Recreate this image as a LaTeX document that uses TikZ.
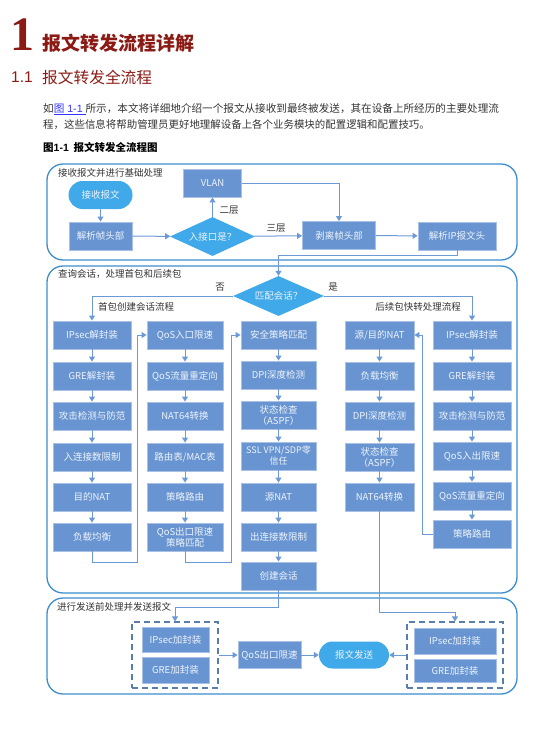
\documentclass[tikz,border=0pt]{standalone}
\usepackage{fontspec}
\setmainfont{Liberation Serif}
\newfontfamily\cjk{Noto Sans CJK SC}
\newfontfamily\lsans{Liberation Sans}
\usetikzlibrary{arrows.meta,shapes.geometric,calc}
\definecolor{headred}{HTML}{8B1A14}
\definecolor{secline}{HTML}{3C8DD0}
\definecolor{boxfill}{HTML}{6895D2}
\definecolor{boxline}{HTML}{A8C1E4}
\definecolor{pillc}{HTML}{40A9E9}
\definecolor{conn}{HTML}{6C9AD6}
\definecolor{dashc}{HTML}{5A7EAA}
\definecolor{textgrey}{HTML}{333333}
\definecolor{boxtext}{HTML}{EEF3FA}
\definecolor{linkblue}{HTML}{3333FF}
\begin{document}
\begin{tikzpicture}[x=1pt,y=-1pt,
  nf/.style={font=\cjk\fontsize{9.5}{11}\selectfont},
  box/.style={nf, draw=boxline, fill=boxfill, line width=0.9pt, text=boxtext, minimum height=28pt, inner sep=1pt, align=center},
  pill/.style={nf, fill=pillc, draw=none, rounded corners=14pt, text=boxtext, minimum height=28pt, inner sep=1pt},
  dia/.style={nf, shape=diamond, fill=pillc, draw=none, text=boxtext, inner sep=0pt},
  arr/.style={draw=conn, line width=1pt, -{Triangle[width=6pt,length=5pt]}},
  sec/.style={draw=secline, line width=1.3pt, rounded corners=16pt},
  lab/.style={nf, text=textgrey, inner sep=0pt},
  dbox/.style={draw=dashc, dash pattern=on 6pt off 4pt, line width=1.2pt, inner sep=0pt}
]
\useasboundingbox (0,0) rectangle (553,731);

% ---------- header ----------
\node[anchor=base west, inner sep=0pt, text=headred, font=\fontsize{48}{48}\selectfont\bfseries] (hnum) at (10,50) {1};
\node[anchor=base west, inner sep=0pt, text=headred, font=\cjk\bfseries\fontsize{19}{19}\selectfont] (htitle) at (42,50) {报文转发流程详解};
\node[anchor=base west, inner sep=0pt, text=headred, font=\lsans\fontsize{15.5}{16}\selectfont] (snum) at (11,82) {1.1};
\node[anchor=base west, inner sep=0pt, text=headred, font=\cjk\fontsize{15.7}{16}\selectfont] (stitle) at (42,83) {报文转发全流程};
\node[anchor=base west, inner sep=0pt, text=textgrey, font=\cjk\fontsize{10.6}{12}\selectfont] (para1) at (43,112)
  {如{\color{linkblue}\underline{图{\lsans\ 1-1 }}}所示，本文将详细地介绍一个报文从接收到最终被发送，其在设备上所经历的主要处理流};
\node[anchor=base west, inner sep=0pt, text=textgrey, font=\cjk\fontsize{10.45}{12}\selectfont] (para2) at (43,128.5)
  {程，这些信息将帮助管理员更好地理解设备上各个业务模块的配置逻辑和配置技巧。};
\node[anchor=base west, inner sep=0pt, text=black, font=\cjk\bfseries\fontsize{10.5}{12}\selectfont] (cap) at (43,151)
  {图{\lsans\bfseries 1-1}\ \ 报文转发全流程图};

% ---------- section frames ----------
\draw[sec] (47,164) rectangle (517,260);
\draw[sec] (47,266) rectangle (517,593);
\draw[sec] (47,598) rectangle (517,694);
\node[lab, anchor=west] (sl1) at (58,173) {接收报文并进行基础处理};
\node[lab, anchor=west] (sl2) at (58,274) {查询会话，处理首包和后续包};
\node[lab, anchor=west] (sl3) at (57,607) {进行发送前处理并发送报文};

% ---------- section 1 ----------
\node[pill, minimum width=64pt] (recv) at (100.5,195) {接收报文};
\node[box, minimum width=63pt] (parse) at (100.5,236) {解析帧头部};
\node[dia, minimum width=85pt, minimum height=39pt, aspect=2.2] (iface) at (212.5,236.5) {入接口是？};
\node[box, minimum width=58pt] (vlan) at (212.5,183) {VLAN};
\node[box, minimum width=73pt] (strip) at (339,235.5) {剥离帧头部};
\node[box, minimum width=78pt] (parseip) at (457,236) {解析IP报文头};
\node[lab] (l2) at (229,210) {二层};
\node[lab] (l3) at (276,228) {三层};

% ---------- section 2 ----------
\node[dia, minimum width=91pt, minimum height=40pt, aspect=2.3] (match) at (278.5,296) {匹配会话？};
\node[lab] (lno) at (220,287) {否};
\node[lab] (lyes) at (333,287) {是};
\node[lab, anchor=west] (lfirst) at (98,307) {首包创建会话流程};
\node[lab, anchor=east] (lnext) at (461,307) {后续包快转处理流程};

% column A
\node[box, minimum width=78pt] (A1) at (92,335) {IPsec解封装};
\node[box, minimum width=78pt] (A2) at (92,376) {GRE解封装};
\node[box, minimum width=78pt] (A3) at (92,416) {攻击检测与防范};
\node[box, minimum width=78pt] (A4) at (92,457) {入连接数限制};
\node[box, minimum width=78pt] (A5) at (92,497) {目的NAT};
\node[box, minimum width=78pt] (A6) at (92,537) {负载均衡};
% column B
\node[box, minimum width=76pt] (B1) at (185,335) {QoS入口限速};
\node[box, minimum width=76pt] (B2) at (185,376) {QoS流量重定向};
\node[box, minimum width=76pt] (B3) at (185,416) {NAT64转换};
\node[box, minimum width=76pt] (B4) at (185,457) {路由表/MAC表};
\node[box, minimum width=76pt] (B5) at (185,497) {策略路由};
\node[box, minimum width=76pt] (B6) at (185,537) {QoS出口限速\\策略匹配};
% column C
\node[box, minimum width=75pt] (C1) at (278.5,335) {安全策略匹配};
\node[box, minimum width=75pt] (C2) at (278.5,375) {DPI深度检测};
\node[box, minimum width=75pt] (C3) at (278.5,415) {状态检查\\（ASPF）};
\node[box, minimum width=75pt, font=\cjk\fontsize{9}{10.5}\selectfont] (C4) at (278.5,456) {SSL VPN/SDP零\\信任};
\node[box, minimum width=75pt] (C5) at (278.5,497) {源NAT};
\node[box, minimum width=75pt] (C6) at (278.5,537) {出连接数限制};
\node[box, minimum width=75pt] (C7) at (278.5,576) {创建会话};
% column D
\node[box, minimum width=69pt] (D1) at (379.5,335) {源/目的NAT};
\node[box, minimum width=69pt] (D2) at (379.5,376) {负载均衡};
\node[box, minimum width=69pt] (D3) at (379.5,416) {DPI深度检测};
\node[box, minimum width=69pt] (D4) at (379.5,457) {状态检查\\（ASPF）};
\node[box, minimum width=69pt] (D5) at (379.5,497) {NAT64转换};
% column E
\node[box, minimum width=78pt] (E1) at (472,335) {IPsec解封装};
\node[box, minimum width=78pt] (E2) at (472,376) {GRE解封装};
\node[box, minimum width=78pt] (E3) at (472,416) {攻击检测与防范};
\node[box, minimum width=78pt] (E4) at (472,456) {QoS入出限速};
\node[box, minimum width=78pt] (E5) at (472,496) {QoS流量重定向};
\node[box, minimum width=78pt] (E6) at (472,534) {策略路由};

% ---------- section 3 ----------
\node[dbox, minimum width=86pt, minimum height=66pt] (LD) at (175,655) {};
\node[box, minimum width=67pt, minimum height=25pt] (LIP) at (175.5,639.5) {IPsec加封装};
\node[box, minimum width=67pt, minimum height=26pt] (LGRE) at (175.5,670) {GRE加封装};
\node[dbox, minimum width=96pt, minimum height=66pt] (RD) at (455,655) {};
\node[box, minimum width=82pt, minimum height=26pt] (RIP) at (455,641) {IPsec加封装};
\node[box, minimum width=82pt, minimum height=23pt] (RGRE) at (455,671) {GRE加封装};
\node[box, minimum width=63pt, minimum height=27pt] (qos) at (269.5,655) {QoS出口限速};
\node[pill, minimum width=70pt, minimum height=27pt, rounded corners=13.5pt] (send) at (354,655) {报文发送};

% ---------- connectors ----------
\draw[arr] (recv) -- (parse);
\draw[arr] (parse) -- (iface);
\draw[arr] (iface) -- (vlan);
\draw[arr] (iface) -- (strip);
\draw[arr] (vlan.east) -| (strip.north);
\draw[arr] (strip) -- (parseip);
\coordinate (j1) at (278.5,255);
\draw[arr] (parseip.south) |- (j1) -- (match.north);

\draw[arr] (match.west) -| (A1.north);
\draw[arr] (match.east) -| (E1.north);

\foreach \c/\n in {A/6, B/6, C/7, D/5, E/6}{
  \foreach \i [evaluate=\i as \j using int(\i+1)] in {1,...,\n}{
    \ifnum\i<\n \draw[arr] (\c\i) -- (\c\j);\fi
  }
}

\draw[arr] (A6.south) |- (137,562) |- (B1.west);
\draw[arr] (B6.south) |- (231,562) |- (C1.west);
\draw[arr] (E6.west) -- ++(-10,0) |- (D1.east);
\draw[arr] (C7.south) |- (175,607) -- (LD.north);
\draw[arr] (D5.south) |- (455,612) -- (RD.north);

\draw[arr] (LD.east) -- (qos.west);
\draw[arr] (qos.east) -- (send.west);
\draw[arr] (RD.west) -- (send.east);
\end{tikzpicture}
\end{document}
